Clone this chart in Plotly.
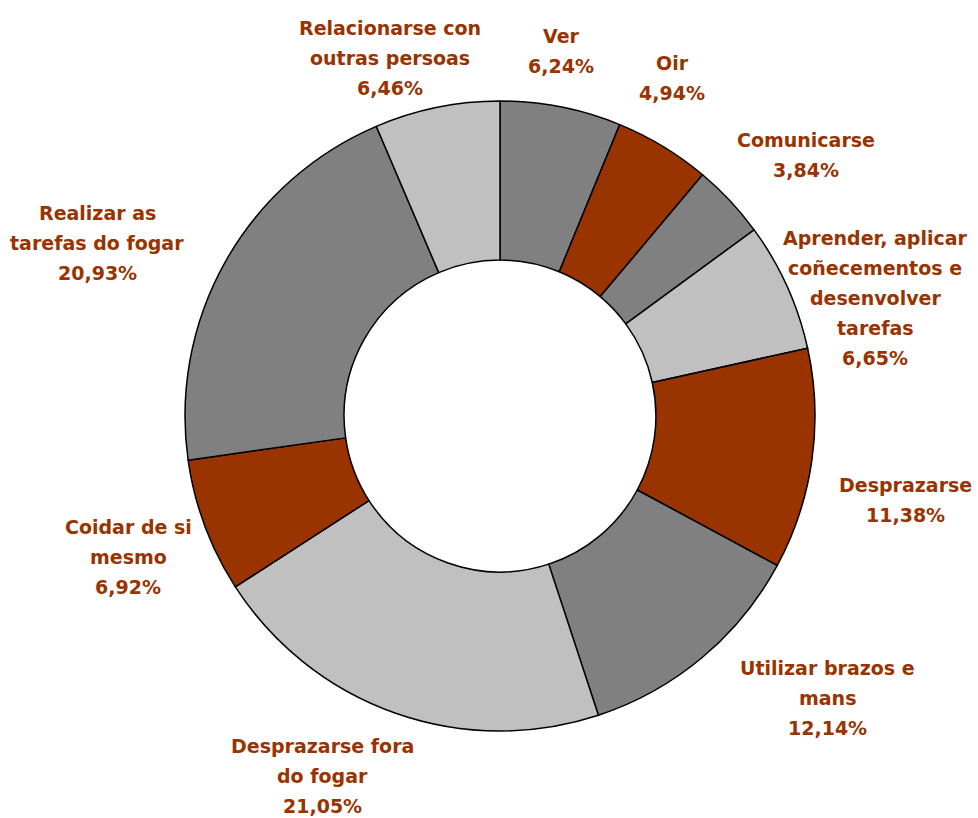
import plotly.graph_objects as go

# Categories (line breaks as drawn in the labels) and their shares in percent
categories = [
    "Ver",
    "Oir",
    "Comunicarse",
    "Aprender, aplicar<br>coñecementos e<br>desenvolver<br>tarefas",
    "Desprazarse",
    "Utilizar brazos e<br>mans",
    "Desprazarse fora<br>do fogar",
    "Coidar de si<br>mesmo",
    "Realizar as<br>tarefas do fogar",
    "Relacionarse con<br>outras persoas",
]
values = [6.24, 4.94, 3.84, 6.65, 11.38, 12.14, 21.05, 6.92, 20.93, 6.46]

GRAY = "#808080"
BROWN = "#993300"
LIGHT = "#C0C0C0"
slice_colors = [GRAY, BROWN, GRAY, LIGHT, BROWN, GRAY, LIGHT, BROWN, GRAY, LIGHT]

W, H = 978, 818
# label block centres (pixels from top-left) and line spacing
label_centres = [
    (561, 51), (672, 78), (806, 155), (875, 298), (905, 500),
    (827, 698), (322, 776), (128, 557), (97, 243), (390, 58),
]
LINE = 30

fig = go.Figure(
    go.Pie(
        labels=[c.replace("<br>", " ") for c in categories],
        values=values,
        hole=0.495,
        sort=False,
        direction="clockwise",
        rotation=0,
        marker=dict(colors=slice_colors, line=dict(color="#000000", width=1.5)),
        textinfo="none",
        hoverinfo="label+percent",
        domain=dict(x=[185 / W, 815 / W], y=[(H - 731) / H, (H - 101) / H]),
        showlegend=False,
    )
)

annotations = []
for name, val, (cx, cy) in zip(categories, values, label_centres):
    lines = name.split("<br>") + [f"{val:.2f}".replace(".", ",") + "%"]
    n = len(lines)
    for i, txt in enumerate(lines):
        y_px = cy + (i - (n - 1) / 2) * LINE
        annotations.append(
            dict(
                x=cx / W, y=1 - y_px / H, xref="paper", yref="paper",
                text=f"<b>{txt}</b>", showarrow=False,
                xanchor="center", yanchor="middle",
                font=dict(family="DejaVu Sans", size=19, color=BROWN),
            )
        )

fig.update_layout(
    width=W, height=H,
    margin=dict(l=0, r=0, t=0, b=0),
    paper_bgcolor="white", plot_bgcolor="white",
    annotations=annotations,
)

fig.write_html("out.html")
